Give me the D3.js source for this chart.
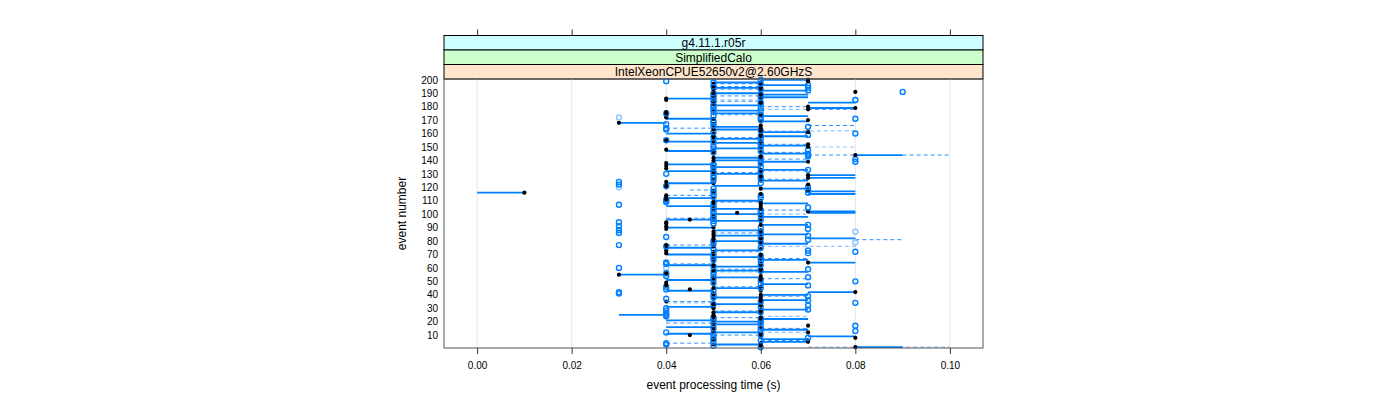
<!DOCTYPE html>
<html><head><meta charset="utf-8">
<script src="https://cdn.jsdelivr.net/npm/d3@7"></script>
<style>body{margin:0;background:#fff}svg{display:block}text{font-family:"Liberation Sans",Arial,sans-serif}</style>
</head><body><svg id="c" width="1400" height="400"></svg>
<script>
const stripLabels = ["g4.11.1.r05r", "SimplifiedCalo", "IntelXeonCPUE52650v2@2.60GHzS"];
const stripColors = ["#ccffff", "#ccffcc", "#ffe5cc"];
const xTicks = [0, 0.02, 0.04, 0.06, 0.08, 0.10];
const yTicks = [10,20,30,40,50,60,70,80,90,100,110,120,130,140,150,160,170,180,190,200];
// black filled points: time per event 1..200
const blackTimes = [
0.08,0.06,0.05,0.06,0.07,0.07,0.05,0.08,0.06,0.045,
0.06,0.07,0.05,0.05,0.06,0.05,0.07,0.06,0.05,0.05,
0.06,0.05,0.06,0.05,0.05,0.06,0.05,0.06,0.06,0.05,
0.05,0.06,0.05,0.06,0.04,0.06,0.05,0.06,0.05,0.06,
0.05,0.08,0.06,0.045,0.05,0.06,0.04,0.05,0.04,0.06,
0.05,0.06,0.05,0.06,0.03,0.04,0.06,0.05,0.06,0.05,
0.06,0.05,0.06,0.07,0.05,0.06,0.05,0.06,0.05,0.06,
0.04,0.05,0.04,0.06,0.04,0.05,0.04,0.06,0.05,0.06,
0.05,0.06,0.05,0.06,0.05,0.06,0.05,0.06,0.04,0.05,
0.04,0.06,0.04,0.04,0.06,0.045,0.05,0.06,0.05,0.06,
0.055,0.07,0.05,0.06,0.05,0.06,0.05,0.06,0.05,0.06,
0.04,0.05,0.04,0.04,0.06,0.01,0.05,0.07,0.06,0.04,
0.04,0.07,0.05,0.04,0.06,0.05,0.07,0.06,0.07,0.05,
0.06,0.05,0.06,0.04,0.05,0.04,0.06,0.04,0.07,0.05,
0.06,0.05,0.06,0.08,0.05,0.06,0.05,0.04,0.06,0.07,
0.06,0.07,0.05,0.06,0.04,0.05,0.06,0.05,0.06,0.05,
0.07,0.06,0.05,0.06,0.05,0.06,0.05,0.03,0.06,0.07,
0.05,0.04,0.04,0.06,0.04,0.04,0.05,0.07,0.08,0.07,
0.06,0.05,0.06,0.05,0.04,0.04,0.06,0.05,0.06,0.05,
0.08,0.06,0.05,0.06,0.05,0.06,0.05,0.06,0.07,0.07];
// blue open circles: time per event 1..200
const blueTimes = [
0.06,0.05,0.04,0.04,0.05,0.06,0.05,0.07,0.05,0.06,
0.05,0.04,0.08,0.06,0.05,0.06,0.08,0.05,0.06,0.06,
0.05,0.06,0.05,0.04,0.04,0.04,0.06,0.04,0.07,0.04,
0.06,0.07,0.05,0.08,0.06,0.07,0.04,0.05,0.07,0.05,
0.03,0.03,0.05,0.04,0.06,0.04,0.07,0.06,0.05,0.08,
0.06,0.05,0.07,0.04,0.05,0.04,0.05,0.06,0.07,0.03,
0.05,0.06,0.04,0.04,0.06,0.05,0.06,0.05,0.06,0.05,
0.07,0.08,0.07,0.05,0.06,0.04,0.03,0.05,0.06,0.05,
0.07,0.06,0.04,0.07,0.06,0.03,0.06,0.03,0.07,0.06,
0.03,0.07,0.05,0.03,0.05,0.06,0.05,0.05,0.06,0.05,
0.06,0.05,0.06,0.05,0.07,0.05,0.03,0.05,0.04,0.04,
0.04,0.06,0.05,0.06,0.05,0.07,0.05,0.07,0.05,0.07,
0.04,0.03,0.06,0.03,0.05,0.06,0.05,0.06,0.05,0.04,
0.05,0.06,0.07,0.05,0.06,0.05,0.05,0.06,0.08,0.06,
0.08,0.06,0.07,0.07,0.07,0.05,0.06,0.07,0.05,0.06,
0.05,0.06,0.06,0.05,0.04,0.06,0.05,0.06,0.07,0.08,
0.05,0.06,0.04,0.04,0.07,0.05,0.04,0.05,0.05,0.06,
0.08,0.06,0.05,0.06,0.04,0.05,0.06,0.05,0.06,0.05,
0.05,0.06,0.06,0.05,0.08,0.05,0.06,0.05,0.06,0.05,
0.09,0.07,0.06,0.07,0.05,0.07,0.06,0.05,0.04,0.06];
// light open circles: [event, time]
const lightPoints = [[172,0.03],[120,0.03],[87,0.08],[79,0.08],[165,0.07],[105,0.07],[185,0.08],[60,0.04]];
// solid segments: [event, from, to]
const solidSegs = [[1,.08,.09],[3,.05,.06],[5,.06,.07],[7,.06,.07],[9,.07,.08],[11,.04,.05],[12,.05,.06],[14,.06,.07],[16,.04,.05],[18,.05,.06],[20,.05,.06],[21,.04,.05],[22,.06,.07],[25,.03,.04],[27,.05,.06],[29,.06,.07],[31,.04,.05],[33,.05,.06],[36,.06,.07],[38,.05,.06],[40,.06,.07],[42,.07,.08],[43,.04,.05],[45,.05,.06],[48,.06,.07],[51,.04,.05],[53,.05,.06],[55,.03,.04],[57,.06,.07],[58,.05,.06],[61,.05,.06],[62,.04,.05],[64,.07,.08],[66,.06,.07],[68,.05,.06],[70,.04,.05],[73,.05,.06],[75,.04,.05],[78,.06,.07],[80,.05,.06],[82,.07,.08],[84,.05,.06],[85,.06,.07],[88,.05,.06],[90,.04,.05],[92,.06,.07],[95,.05,.06],[96,.04,.05],[98,.06,.07],[100,.05,.06],[101,.07,.08],[102,.07,.08],[104,.05,.06],[106,.04,.05],[108,.06,.07],[110,.05,.06],[112,.04,.05],[115,.07,.08],[116,0,.01],[117,.07,.08],[119,.06,.07],[121,.05,.06],[123,.04,.05],[125,.06,.07],[127,.07,.08],[129,.07,.08],[130,.05,.06],[132,.04,.05],[133,.06,.07],[135,.05,.06],[137,.04,.05],[139,.06,.07],[140,.05,.06],[142,.05,.06],[144,.08,.09],[145,.06,.07],[147,.04,.05],[149,.05,.06],[151,.06,.07],[153,.05,.06],[154,.04,.05],[156,.05,.06],[158,.06,.07],[160,.04,.05],[161,.06,.07],[163,.05,.06],[165,.05,.06],[168,.03,.04],[169,.06,.07],[171,.04,.05],[173,.06,.07],[175,.05,.06],[177,.05,.06],[179,.07,.08],[181,.05,.06],[183,.07,.08],[186,.04,.05],[187,.06,.07],[189,.06,.07],[190,.05,.06],[192,.06,.07],[194,.05,.06],[196,.06,.07],[198,.05,.06],[200,.06,.07]];
// dashed segments: [event, from, to]
const dashedSegs = [[144,.07,.08],[144,.09,.10],[81,.08,.09],[4,.04,.05],[6,.06,.07],[10,.05,.06],[15,.06,.07],[19,.04,.05],[23,.05,.06],[28,.05,.06],[35,.04,.05],[39,.06,.07],[46,.05,.06],[52,.06,.07],[59,.05,.06],[63,.04,.05],[67,.06,.07],[72,.05,.06],[77,.04,.05],[86,.05,.06],[97,.04,.05],[103,.06,.07],[109,.05,.06],[114,.04,.05],[118,.045,.05],[126,.06,.07],[131,.05,.06],[141,.06,.07],[146,.06,.07],[152,.06,.07],[157,.05,.06],[164,.04,.05],[166,.07,.08],[174,.05,.06],[178,.07,.08],[180,.06,.07],[184,.05,.06],[188,.05,.06],[193,.05,.06],[195,.05,.06],[197,.05,.06]];
// light dashed segments: [event, from, to]
const lightDashedSegs = [[1,.07,.10],[162,.06,.08],[150,.07,.08],[178,.06,.07],[24,.06,.07],[12,.06,.07],[76,.06,.08],[132,.06,.07],[100,.06,.07],[57,.05,.06],[34,.04,.05],[185,.05,.06]];

const svg = d3.select("#c");
const L = 444, R = 983, T = 79, B = 348;
const x = d3.scaleLinear().domain([-0.007, 0.107]).range([L, R]);
const y = d3.scaleLinear().domain([0.4, 200.6]).range([B, T]);

// strips
const sh = 14.5;
stripLabels.forEach((lab, i) => {
  const top = T - sh * (3 - i);
  svg.append("rect").attr("x", L).attr("y", top).attr("width", R - L).attr("height", sh)
    .attr("fill", stripColors[i]).attr("stroke", "#000").attr("stroke-width", 1);
  svg.append("text").attr("x", (L + R) / 2).attr("y", top + sh / 2 + 4.5).attr("text-anchor", "middle")
    .attr("font-size", 12).attr("fill", "#000").text(lab);
});
// gridlines
svg.append("g").selectAll("line").data(xTicks).join("line")
  .attr("x1", d => x(d)).attr("x2", d => x(d)).attr("y1", T).attr("y2", B)
  .attr("stroke", "#e6e6e6").attr("stroke-width", 1);

const g = svg.append("g");
const seg = (data, stroke, w, dash) => g.append("g").selectAll("line").data(data).join("line")
  .attr("x1", d => x(d[1])).attr("x2", d => x(d[2])).attr("y1", d => y(d[0])).attr("y2", d => y(d[0]))
  .attr("stroke", stroke).attr("stroke-width", w).attr("stroke-dasharray", dash);
seg(lightDashedSegs, "#8cc6ff", 1.2, "4,3");
seg(dashedSegs, "#2e8fff", 1, "4,3");
seg(solidSegs, "#0080ff", 1.8, null);

g.append("g").selectAll("circle").data(lightPoints).join("circle")
  .attr("cx", d => x(d[1])).attr("cy", d => y(d[0])).attr("r", 2.5)
  .attr("fill", "none").attr("stroke", "#7fbfff").attr("stroke-width", 1.3);
// markers drawn event by event: blue circle, then black dot
const marks = g.append("g").selectAll("g").data(d3.range(blackTimes.length)).join("g");
marks.append("circle")
  .attr("cx", i => x(blueTimes[i])).attr("cy", i => y(i + 1)).attr("r", 2.5)
  .attr("fill", "none").attr("stroke", "#0080ff").attr("stroke-width", 1.4);
marks.append("circle")
  .attr("cx", i => x(blackTimes[i])).attr("cy", i => y(i + 1)).attr("r", 2.1).attr("fill", "#000");

// panel border
svg.append("rect").attr("x", L).attr("y", T).attr("width", R - L).attr("height", B - T)
  .attr("fill", "none").attr("stroke", "#555").attr("stroke-width", 1);

// bottom axis
const bx = svg.append("g").attr("transform", `translate(0,${B})`)
  .call(d3.axisBottom(x).tickValues(xTicks).tickFormat(d3.format(".2f")).tickSize(6).tickPadding(8));
bx.select(".domain").remove();
bx.selectAll("line").attr("stroke", "#333");
bx.selectAll("text").attr("font-size", 10).attr("fill", "#000").style("font-family", "Liberation Sans, Arial, sans-serif");
// top axis ticks
const tx = svg.append("g").attr("transform", `translate(0,${T - 3 * sh})`)
  .call(d3.axisTop(x).tickValues(xTicks).tickFormat("").tickSize(6));
tx.select(".domain").remove();
tx.selectAll("line").attr("stroke", "#333");
// left axis
const ly = svg.append("g").attr("transform", `translate(${L},0)`)
  .call(d3.axisLeft(y).tickValues(yTicks).tickSize(0).tickPadding(6));
ly.select(".domain").remove();
ly.selectAll("text").attr("font-size", 10).attr("fill", "#000").style("font-family", "Liberation Sans, Arial, sans-serif");

svg.append("text").attr("x", (L + R) / 2).attr("y", 389).attr("text-anchor", "middle")
  .attr("font-size", 12).text("event processing time (s)");
svg.append("text").attr("transform", `translate(406,${(T + B) / 2}) rotate(-90)`).attr("text-anchor", "middle")
  .attr("font-size", 12).text("event number");
</script></body></html>
